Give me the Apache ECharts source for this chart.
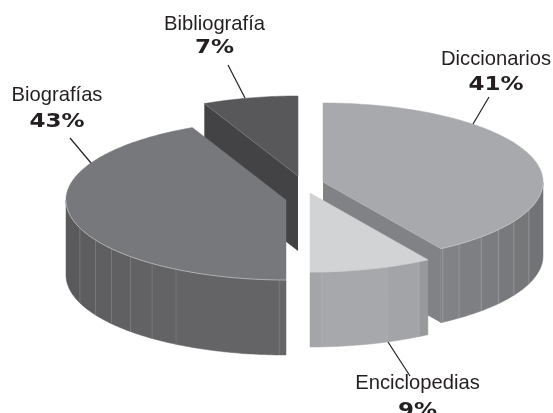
<!DOCTYPE html>
<html>
<head>
<meta charset="utf-8">
<title>Pie</title>
<script src="https://cdn.jsdelivr.net/npm/echarts@6/dist/echarts.min.js"></script>
<style>
	html, body { margin: 0; padding: 0; background: #fff; }
	#chart { width: 553px; height: 413px; }
</style>
</head>
<body>
<div id="chart"></div>
<script>
// clockwise from the top, same order as the picture
var categories = ['Diccionarios', 'Enciclopedias', 'Biografías', 'Bibliografía'];
var percents = [41, 9, 43, 7];

// where the side of each slice is split in panels (degrees from the top)
var panelAngles = [
	[110.6, 119.8, 127, 134, 141.8, 147],
	[150.3, 159.5, 176.9],
	[181.8, 210, 217.5, 225, 232.5, 240, 249.5],
	[]
];

var RX = 220;

// layout and look of every slice, in the same order
var slices = [
	{ cx: 323, cy: 182, ry: 79, depth: 74, top: '#a7a9ac', wall: '#808285', panelLine: '#a3a4a7', side: ['#727376', '#767779', '#78797c', '#7b7c7f', '#7e7f82', '#808285', '#808285'], order: 2,
		lx: 496, ly: 59, py: 85, line: [[489, 97], [473, 124]] },
	{ cx: 310, cy: 193, ry: 79, depth: 75, top: '#d1d3d4', wall: '#a7a9ac', panelLine: '#b4b5b7', side: ['#97999c', '#a2a4a7', '#a6a8ab', '#a3a5a8'], order: 3,
		lx: 417.5, ly: 383, py: 410.7, line: [[388, 342], [410, 376]] },
	{ cx: 286, cy: 200, ry: 80, depth: 75, top: '#77787b', wall: '#636466', panelLine: '#858587', side: ['#666668', '#646466', '#636365', '#626264', '#606062', '#5f5f61', '#5d5d5f', '#5a5a5c'], order: 1,
		lx: 57, ly: 95, py: 121.5, line: [[70, 138], [91, 163]] },
	{ cx: 298, cy: 176, ry: 80, depth: 75, top: '#58585a', wall: '#434345', panelLine: '#77787b', side: ['#434345'], order: 0,
		lx: 214.5, ly: 24, py: 48, line: [[228, 65], [245, 98]] }
];

function rimPoint(s, deg, drop) {
	var a = deg * Math.PI / 180;
	return [s.cx + RX * Math.sin(a), s.cy - s.ry * Math.cos(a) + (drop || 0)];
}

function arcPoints(s, from, to, drop) {
	var pts = [];
	var steps = Math.max(1, Math.ceil(Math.abs(to - from)));
	for (var i = 0; i <= steps; i++) {
		pts.push(rimPoint(s, from + (to - from) * i / steps, drop));
	}
	return pts;
}

function renderSlice(params, api) {
	var i = params.dataIndex;
	var s = slices[i];
	var start = 0;
	for (var k = 0; k < i; k++) {
		start += percents[k] * 3.6;
	}
	var end = start + api.value(1) * 3.6;
	var children = [];
	var z = s.order * 10;

	// the straight side that looks to the viewer
	if (i === 0 || i === 3) {
		var edge = i === 0 ? end : start;
		children.push({
			type: 'polygon',
			z2: z,
			shape: { points: [[s.cx, s.cy], rimPoint(s, edge), rimPoint(s, edge, s.depth), [s.cx, s.cy + s.depth]] },
			style: { fill: s.wall }
		});
	}

	// round side, only the part turned to the front
	var from = Math.max(start, 90), to = Math.min(end, 270);
	if (to > from) {
		var cuts = [from].concat(panelAngles[i].filter(function (d) {
			return d > from && d < to;
		}), [to]);
		for (var c = 0; c < cuts.length - 1; c++) {
			children.push({
				type: 'polygon',
				z2: z + 1,
				shape: { points: arcPoints(s, cuts[c], cuts[c + 1]).concat(arcPoints(s, cuts[c + 1], cuts[c], s.depth)) },
				style: { fill: s.side[c], stroke: s.side[c], lineWidth: 0.5 }
			});
			if (c > 0) {
				children.push({
					type: 'line',
					z2: z + 2,
					shape: { x1: rimPoint(s, cuts[c])[0], y1: rimPoint(s, cuts[c])[1], x2: rimPoint(s, cuts[c], s.depth)[0], y2: rimPoint(s, cuts[c], s.depth)[1] },
					style: { stroke: s.panelLine, lineWidth: 0.6 }
				});
			}
		}
	}

	// top of the slice
	children.push({
		type: 'polygon',
		z2: z + 3,
		shape: { points: [[s.cx, s.cy]].concat(arcPoints(s, start, end)) },
		style: { fill: s.top, stroke: s.top, lineWidth: 0.5 }
	});
	if (to > from) {
		children.push({
			type: 'polyline',
			z2: z + 4,
			shape: { points: arcPoints(s, from, to) },
			style: { fill: null, stroke: '#cfd0d2', lineWidth: 0.6 }
		});
	}
	if (i === 3) {
		children.push({
			type: 'line',
			z2: z + 4,
			shape: { x1: s.cx, y1: s.cy, x2: rimPoint(s, start)[0], y2: rimPoint(s, start)[1] },
			style: { stroke: s.panelLine, lineWidth: 0.6 }
		});
	}

	// leader and label
	children.push({
		type: 'line',
		z2: 100,
		shape: { x1: s.line[0][0], y1: s.line[0][1], x2: s.line[1][0], y2: s.line[1][1] },
		style: { stroke: '#231f20', lineWidth: 1.2 }
	});
	children.push({
		type: 'text',
		z2: 100,
		x: s.lx,
		y: s.ly,
		style: {
			text: categories[api.value(0)],
			font: '20.2px "Liberation Sans"',
			fill: '#231f20',
			align: 'center',
			verticalAlign: 'middle'
		}
	});
	children.push({
		type: 'text',
		z2: 100,
		x: s.lx,
		y: s.py,
		scaleX: 1.15,
		style: {
			text: api.value(1) + '%',
			font: 'bold 20px "DejaVu Sans"',
			fill: '#231f20',
			align: 'center',
			verticalAlign: 'middle'
		}
	});

	return { type: 'group', children: children };
}

var chart = echarts.init(document.getElementById('chart'));

chart.setOption({
	animation: false,
	backgroundColor: '#fff',
	series: [{
		type: 'custom',
		coordinateSystem: 'none',
		renderItem: renderSlice,
		clip: false,
		data: percents.map(function (p, idx) {
			return [idx, p];
		})
	}]
});
</script>
</body>
</html>
